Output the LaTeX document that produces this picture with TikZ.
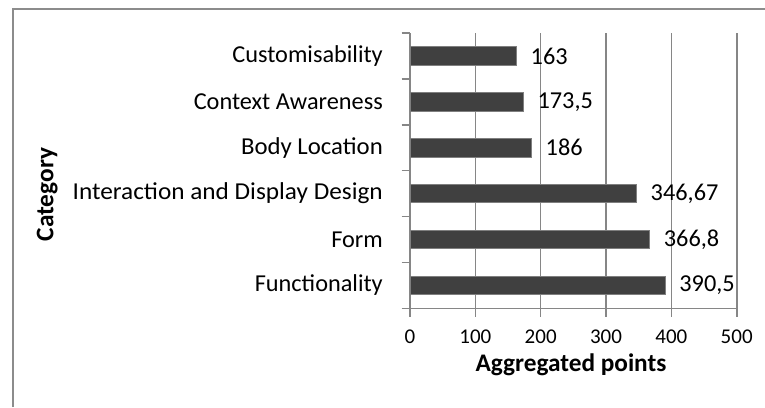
\documentclass[tikz,border=0pt]{standalone}
\usepackage{fontspec}
\setmainfont{Carlito}
\definecolor{framegray}{HTML}{8C8C8C}
\definecolor{gridgray}{HTML}{868686}
\definecolor{bardark}{HTML}{404040}
\definecolor{baredge}{HTML}{7F7F7F}
\tikzset{
  catlabel/.style={anchor=east,inner sep=0pt,font=\fontsize{24.3}{28}\selectfont},
  vallabel/.style={anchor=west,inner sep=0pt,font=\fontsize{24.3}{28}\selectfont},
  ticklabel/.style={anchor=center,inner sep=0pt,font=\fontsize{21}{24}\selectfont},
  axtitle/.style={inner sep=0pt,font=\bfseries\fontsize{25.3}{29}\selectfont},
  gridline/.style={draw=gridgray,line width=1.6pt},
  axisline/.style={draw=gridgray,line width=1.6pt},
  barstyle/.style={fill=bardark,draw=baredge,line width=0.8pt}
}
\begin{document}
\begin{tikzpicture}[x=1pt,y=-1pt]
\useasboundingbox (0,0) rectangle (765,407);
\fill[white] (0,0) rectangle (765,407);
% outer frame (cropped)
\draw[framegray,line width=2pt] (12.7,407) -- (12.7,9) -- (765,9);
% gridlines
\foreach \v in {100,200,300,400,500}{
  \draw[gridline] ({410+\v*0.6534},33) -- ({410+\v*0.6534},308.3);
}
% axes
\draw[axisline] (410,33) -- (410,316.7);
\draw[axisline] (401.7,308.3) -- (736.7,308.3);
\foreach \k in {0,...,5}{
  \draw[axisline] (401.7,{33+\k*45.88}) -- (410,{33+\k*45.88});
}
\foreach \v in {100,200,300,400,500}{
  \draw[axisline] ({410+\v*0.6534},308.3) -- ({410+\v*0.6534},316.7);
}
% bars and labels
\foreach \k/\name/\val/\txt/\sx [count=\i] in {
  0/Customisability/163/163/1,
  1/Context Awareness/173.5/{173,5}/1,
  2/Body Location/186/186/1.02,
  3/Interaction and Display Design/346.67/{346,67}/1.04,
  4/Form/366.8/{366,8}/1,
  5/Functionality/390.5/{390,5}/1}{
  \pgfmathsetmacro{\yc}{55.94+\k*45.88}
  \pgfmathsetmacro{\xe}{410+\val*0.6534}
  \draw[barstyle] (410,\yc-9.2) rectangle (\xe,\yc+9.2);
  \node[catlabel,xscale=\sx,transform shape] (cat\i) at (383,\yc) {\name};
  \node[vallabel] (val\i) at (\xe+14,\yc) {\txt};
}
% tick labels
\foreach \v in {0,100,200,300,400,500}{
  \node[ticklabel] (tick\v) at ({410+\v*0.6534},337) {\v};
}
% axis titles
\node[axtitle,anchor=base] (xtitle) at (571,371) {Aggregated points};
\node[axtitle,anchor=base,rotate=90] (ytitle) at (53.3,194.5) {Category};
\end{tikzpicture}
\end{document}
